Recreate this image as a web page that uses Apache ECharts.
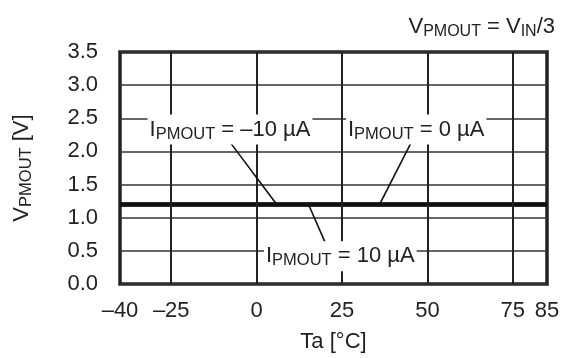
<!DOCTYPE html>
<html>
<head>
<meta charset="utf-8">
<script src="https://cdn.jsdelivr.net/npm/echarts@6/dist/echarts.min.js"></script>
<style>html,body{margin:0;padding:0;background:#fff;}#c{width:564px;height:358px;}</style>
</head>
<body>
<div id="c"></div>
<script>
// Data
var temps = [-40, -25, 0, 25, 50, 75, 85];
var vMinus10uA = [1.2, 1.2, 1.2, 1.2, 1.2, 1.2, 1.2];
var v0uA = [1.2, 1.2, 1.2, 1.2, 1.2, 1.2, 1.2];
var v10uA = [1.2, 1.2, 1.2, 1.2, 1.2, 1.2, 1.2];
var xTickLabels = [-40, -25, 0, 25, 50, 75, 85];
var xGridLines = [-25, 0, 25, 50, 75];
var seriesNames = ['IPMOUT = –10 µA', 'IPMOUT = 0 µA', 'IPMOUT = 10 µA'];
// annotation anchors (data coords): label centre, leader start, leader end
var labelPos = [[-7.8, 2.33], [46.7, 2.33], [24.5, 0.42]];
var leaderLines = [
  [[-7.6, 2.125], [5.9, 1.2]],
  [[45.3, 2.14], [36.0, 1.2]],
  [[20.1, 0.62], [15.2, 1.2]]
];
var labelTexts = [
  '{b|I}{s|PMOUT}{b| = –10 µA}',
  '{b|I}{s|PMOUT}{b| = 0 µA}',
  '{b|I}{s|PMOUT}{b| = 10 µA}'
];

var FONT = 'Liberation Sans, Arial, Helvetica, sans-serif';
var INK = '#222';
var FS = 22;
var chart = echarts.init(document.getElementById('c'), null, {renderer: 'canvas'});

function pair(a, b) { return temps.map(function (t, i) { return [t, b[i]]; }); }

var richLbl = {
  b: {fontSize: FS, fontFamily: FONT, color: INK, lineHeight: 26, fontWeight: 'normal'},
  s: {fontSize: 16.5, fontFamily: FONT, color: INK, lineHeight: 22, verticalAlign: 'bottom', fontWeight: 'normal'}
};

var option = {
  animation: false,
  backgroundColor: '#fff',
  title: {
    text: '{v|V}{s|PMOUT}{v| = V}{s|IN}{v|/3}',
    right: 4, top: 9,
    textStyle: {
      rich: {
        v: {fontSize: FS, fontFamily: FONT, color: INK, lineHeight: 26, fontWeight: 'normal'},
        s: {fontSize: 16, fontFamily: FONT, color: INK, lineHeight: 15, verticalAlign: 'bottom', fontWeight: 'normal'}
      }
    }
  },
  grid: {left: 120, right: 17, top: 52, bottom: 71, show: true, borderColor: INK, borderWidth: 3.5, backgroundColor: 'transparent', containLabel: false},
  xAxis: {
    type: 'value', min: -40, max: 85, interval: 5,
    name: 'Ta [°C]', nameLocation: 'middle', nameGap: 47,
    nameTextStyle: {fontSize: FS, fontFamily: FONT, color: INK},
    axisLine: {show: false}, axisTick: {show: false}, splitLine: {show: false},
    axisLabel: {
      customValues: xTickLabels, margin: 16, fontSize: FS, fontFamily: FONT, color: INK,
      formatter: function (v) { return String(v).replace('-', '–'); }
    }
  },
  yAxis: {
    type: 'value', min: 0, max: 3.5, interval: 0.5,
    name: '{b|V}{s|PMOUT}{b| [V]}', nameLocation: 'middle', nameGap: 85, nameRotate: 90,
    nameTextStyle: {rich: richLbl},
    axisLine: {show: false}, axisTick: {show: false},
    splitLine: {show: true, lineStyle: {color: '#333', width: 1.5}},
    axisLabel: {margin: 22, fontSize: FS, fontFamily: FONT, color: INK, formatter: function (v) { return v.toFixed(1); }}
  },
  series: [
    {
      type: 'line', data: [], z: 1, silent: true,
      markLine: {
        silent: true, symbol: ['none', 'none'], label: {show: false},
        lineStyle: {color: INK, width: 2, type: 'solid'},
        emphasis: {disabled: true},
        data: xGridLines.map(function (v) { return {xAxis: v}; })
      }
    },
    {name: seriesNames[0], type: 'line', data: pair(temps, vMinus10uA), showSymbol: false, z: 3, lineStyle: {color: '#111', width: 4}, silent: true},
    {name: seriesNames[1], type: 'line', data: pair(temps, v0uA), showSymbol: false, z: 3, lineStyle: {color: '#111', width: 4}, silent: true},
    {name: seriesNames[2], type: 'line', data: pair(temps, v10uA), showSymbol: false, z: 3, lineStyle: {color: '#111', width: 4}, silent: true},
    {
      type: 'line', data: [], z: 4, silent: true,
      markLine: {
        silent: true, symbol: ['none', 'none'], label: {show: false},
        lineStyle: {color: '#111', width: 1.6, type: 'solid'},
        emphasis: {disabled: true},
        data: leaderLines.map(function (l) { return [{coord: l[0]}, {coord: l[1]}]; })
      }
    },
    {
      type: 'line', data: [], z: 10, silent: true,
      markPoint: {
        silent: true, symbol: 'rect', symbolSize: 0,
        emphasis: {disabled: true},
        label: {show: true, position: 'inside', backgroundColor: '#fff', padding: [2, 2, 2, 2], rich: richLbl},
        data: labelPos.map(function (p, i) { return {coord: p, value: 0, label: {formatter: labelTexts[i]}}; })
      }
    }
  ]
};
chart.setOption(option);
</script>
</body>
</html>
